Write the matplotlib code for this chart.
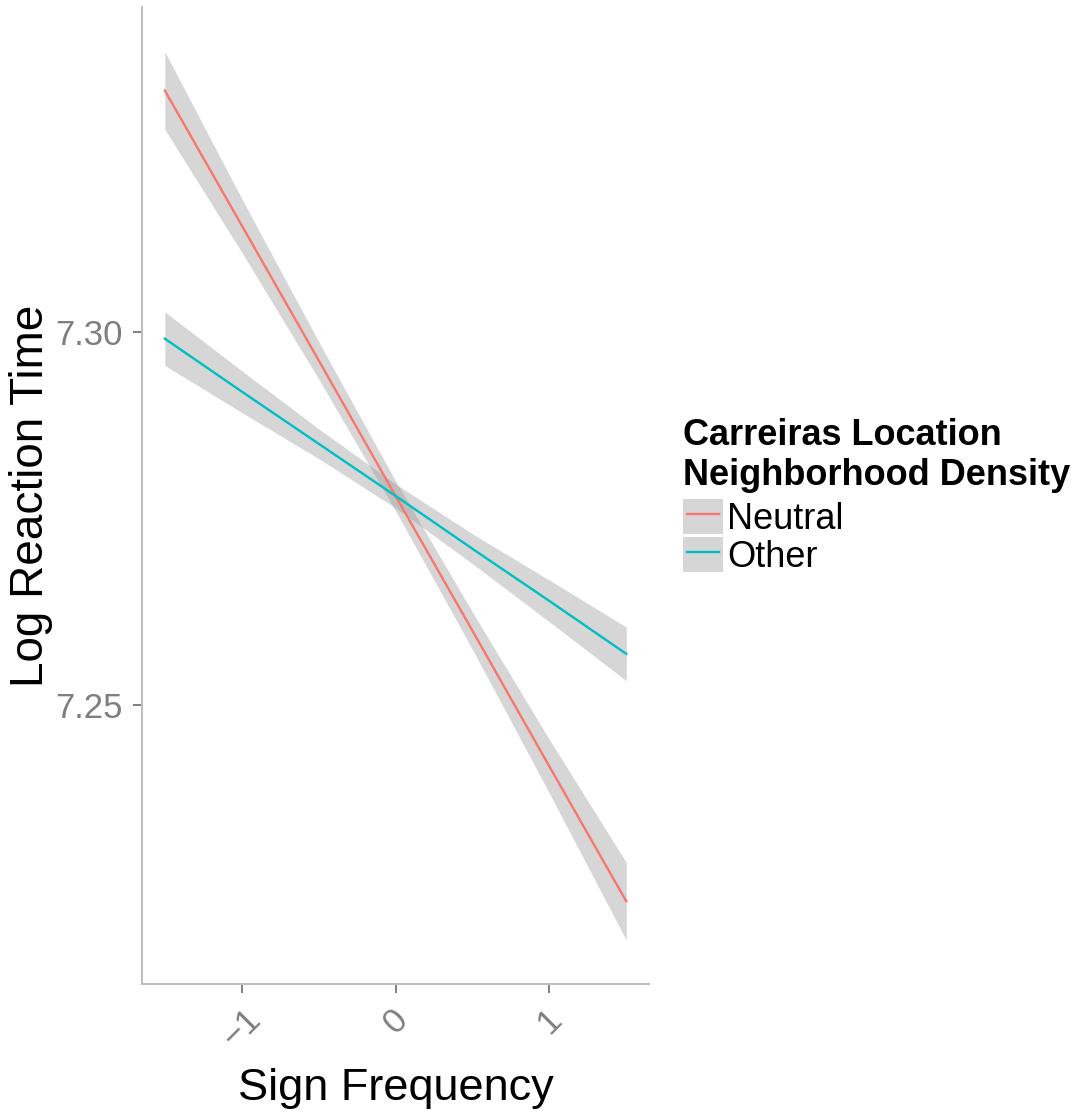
import matplotlib
matplotlib.use('Agg')
import matplotlib.pyplot as plt
from matplotlib.patches import Patch
from matplotlib.lines import Line2D
from matplotlib.legend_handler import HandlerLine2D

plt.rcParams['font.family'] = ['Liberation Sans', 'DejaVu Sans']

# sign frequency (centred) at which the fitted lines and bands are read
freq = [-1.5, -1.0, -0.5, 0.0, 0.5, 1.0, 1.5]

neutral_fit = [7.3324, 7.3143, 7.2962, 7.2780, 7.2599, 7.2417, 7.2236]
neutral_lo = [7.3272, 7.3107, 7.2937, 7.2760, 7.2574, 7.2381, 7.2184]
neutral_hi = [7.3376, 7.3179, 7.2987, 7.2800, 7.2624, 7.2453, 7.2288]

other_fit = [7.2991, 7.2920, 7.2850, 7.2780, 7.2709, 7.2639, 7.2568]
other_lo = [7.2955, 7.2892, 7.2830, 7.2764, 7.2689, 7.2611, 7.2532]
other_hi = [7.3027, 7.2948, 7.2870, 7.2796, 7.2729, 7.2667, 7.2604]

groups = ['Neutral', 'Other']
colors = ['#F8766D', '#00BFC4']
x_ticks = [-1, 0, 1]
x_ticklabels = ['\u22121', '0', '1']
y_ticks = [7.25, 7.30]
y_ticklabels = ['7.25', '7.30']

fig = plt.figure(figsize=(10.81, 11.14), dpi=100)
ax = fig.add_axes([0.1311, 0.1167, 0.4696, 0.877])

series = [(neutral_fit, neutral_lo, neutral_hi), (other_fit, other_lo, other_hi)]
handles = []
for (fit, lo, hi), name, col in zip(series, groups, colors):
    ax.fill_between(freq, lo, hi, color='#999999', alpha=0.4, linewidth=0)
    ax.plot(freq, fit, color=col, linewidth=1.7)
    handles.append((Patch(facecolor='#999999', alpha=0.4, linewidth=0),
                    Line2D([], [], color=col, linewidth=1.7)))

ax.set_xlim(-1.65, 1.65)
ax.set_ylim(7.2125, 7.3436)
ax.set_xticks(x_ticks)
ax.set_xticklabels(x_ticklabels)
ax.set_yticks(y_ticks)
ax.set_yticklabels(y_ticklabels)

for side in ['top', 'right']:
    ax.spines[side].set_visible(False)
for side in ['left', 'bottom']:
    ax.spines[side].set_color('#BEBEBE')
    ax.spines[side].set_linewidth(1.4)

ax.tick_params(axis='both', direction='out', length=6.5, width=1.4,
               color='#7F7F7F', labelcolor='#7F7F7F', labelsize=25)
ax.tick_params(axis='y', pad=7)
ax.tick_params(axis='x', pad=7)
for lab in ax.get_xticklabels():
    lab.set_rotation(45)
    lab.set_ha('center')
    lab.set_va('top')

ax.set_xlabel('Sign Frequency', fontsize=32.5, labelpad=10)
ax.set_ylabel('Log Reaction Time', fontsize=33, labelpad=2)

leg = ax.legend(handles, groups, title='Carreiras Location\nNeighborhood Density',
                loc='upper left', bbox_to_anchor=(683 / 1081, 1 - 418 / 1114),
                bbox_transform=fig.transFigure, frameon=False, fontsize=26,
                title_fontproperties={'weight': 'bold', 'size': 26},
                alignment='left', borderpad=0, borderaxespad=0,
                handlelength=1.1, handleheight=1.1, handletextpad=0.12,
                labelspacing=0.02,
                handler_map={Line2D: HandlerLine2D(numpoints=2, marker_pad=0.11)})
# a little room between the title and the keys
leg._legend_box.sep = 4

fig.savefig('out.png', dpi=100)
